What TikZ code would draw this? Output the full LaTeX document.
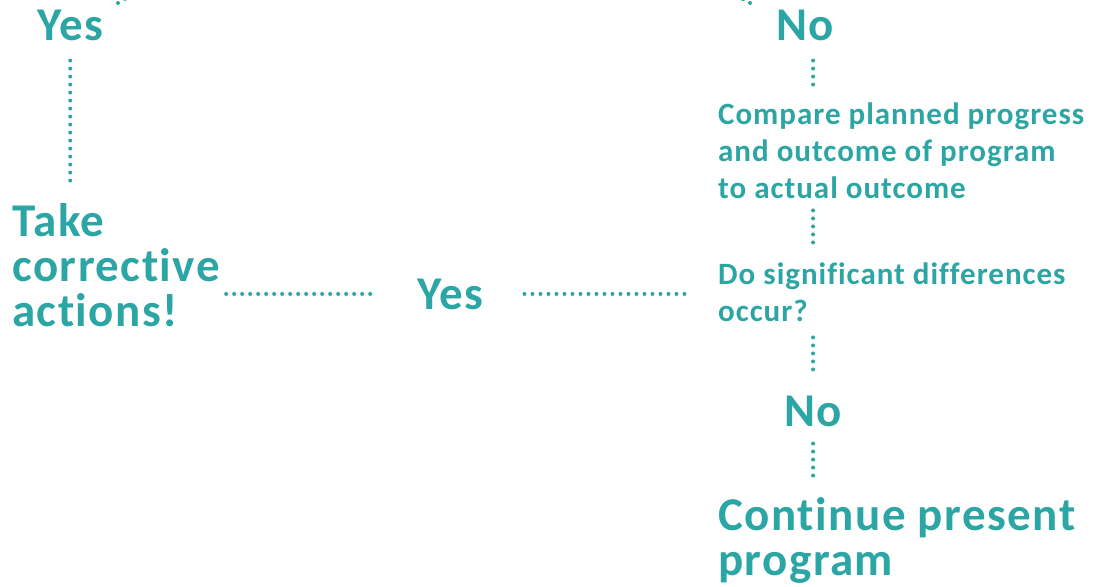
\documentclass[tikz,border=0pt]{standalone}
\usepackage{fontspec}
\setmainfont{Carlito}[LetterSpace=3.2, Ligatures={NoCommon}, RawFeature={-liga;-dlig}]
\usepackage{tikz}
\usetikzlibrary{positioning}
\definecolor{teal}{RGB}{44,166,164}
\tikzset{%
  every label/.style={
    text=teal,
    inner sep=0pt,
    align=left,
    anchor=base west
  },
  big label/.style={
    every label/.try,
    font=\bfseries\fontsize{47}{45}\selectfont
  },
  small label/.style={
    every label/.try,
    font=\bfseries\fontsize{31}{37}\selectfont
  },
  dotted link/.style={
    draw=teal,
    line width=4pt,
    line cap=round,
    dash pattern=on 0pt off 8pt
  },
}
\begin{document}
\begin{tikzpicture}[x=1pt, y=-1pt]
        \useasboundingbox (0,0) rectangle (1105,586);
        \clip (0,0) rectangle (1105,586);

        % answers
        \node [big label] (yes-1) at (37,41) {Yes};
        \node [big label] (no-1) at (776,41) {No};
        \node [big label] (yes-2) at (417,309) {Yes};
        \node [big label] (no-2) at (784,426) {No};

        % actions and questions (placed at their last baseline)
        \node [big label] (take) at (12,326) {Take\\corrective\\actions!};
        \node [small label] (compare) at (718,198)
        {Compare planned progress\\and outcome of program\\to actual outcome};
        \node [small label] (differ) at (718,321)
        {Do significant differences\\occur?};
        \node [big label] (continue) at (718,575) {Continue present\\program};

        % incoming links, cut off at the top
        \coordinate (in-yes) at (118,3);
        \coordinate (from-yes) at (190,-40);
        \coordinate (in-no) at (750,3);
        \coordinate (from-no) at (680,-35);
        \draw [dotted link] (in-yes) -- (from-yes);
        \draw [dotted link] (in-no) -- (from-no);

        % links
        \draw [dotted link, shorten <=19pt, shorten >=16pt]
        (yes-1.south) -- (yes-1.south |- take.north);
        \draw [dotted link, shorten <=6pt, shorten >=39pt]
        (take.east |- yes-2) -- (yes-2.west);
        \draw [dotted link, shorten <=41pt, shorten >=31pt]
        (yes-2.east) -- (yes-2 -| differ.west);
        \draw [dotted link, shorten <=19pt, shorten >=13pt]
        (no-1.south -| no-2) -- (compare.north -| no-2);
        \draw [dotted link, shorten <=12pt, shorten >=15pt]
        (compare.south -| no-2) -- (differ.north -| no-2);
        \draw [dotted link, shorten <=16pt, shorten >=22pt]
        (differ.south -| no-2) -- (no-2.north);
        \draw [dotted link, shorten <=17pt, shorten >=18pt]
        (no-2.south) -- (no-2.south |- continue.north);

    \end{tikzpicture}
\end{document}
